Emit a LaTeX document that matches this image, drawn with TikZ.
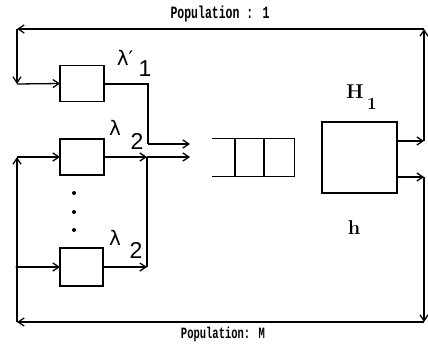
\documentclass[tikz,border=0pt]{standalone}
\usepackage{fontspec}
\newfontfamily\popfont{Liberation Mono}
\newfontfamily\lamfont{DejaVu Sans}
\newfontfamily\digfont{Liberation Sans}
\usetikzlibrary{arrows.meta}
\begin{document}
\begin{tikzpicture}[x=1pt,y=-1pt,line width=1.3pt,
  tip/.style={-{Straight Barb[length=6pt,width=8pt,line width=1.3pt]}},
  box/.style={draw,minimum width=44pt,minimum height=36pt,inner sep=0pt,outer sep=0pt},
  hbox/.style={draw,minimum width=75pt,minimum height=71pt,inner sep=0pt,outer sep=0pt},
  poptext/.style={inner sep=0pt,font=\popfont\bfseries},
  lam/.style={inner sep=0pt,font=\lamfont\fontsize{20}{20}\selectfont},
  dig/.style={inner sep=0pt,font=\digfont\fontsize{23}{23}\selectfont},
  serif/.style={inner sep=0pt,font=\bfseries\fontsize{20}{20}\selectfont}]
\useasboundingbox (0,0) rectangle (428,350);
% boxes
\node[box] (box1) at (82,83.5) {};
\node[box] (box2) at (82,157) {};
\node[box,minimum width=43pt,minimum height=38pt] (box3) at (81.5,267) {};
\node[hbox] (H) at (359.5,157.5) {};
% queue
\node[minimum width=81pt,minimum height=37pt,inner sep=0pt] (queue) at (253.5,157.5) {};
\draw (queue.north west) -- (queue.north east) -- (queue.south east) -- (queue.south west);
\draw (235,139) -- (235,176);
\draw (264,139) -- (264,176);
% coordinates
\coordinate (o1) at (424,141);
\coordinate (tr) at (424,29);
\coordinate (tl) at (17,29);
\coordinate (ml) at (17,84);
\coordinate (o2) at (424,177);
\coordinate (br) at (424,322);
\coordinate (bl) at (17,322);
\coordinate (l2) at (17,157);
\coordinate (l3) at (17,267);
\coordinate (j1) at (148,84);
\coordinate (j1b) at (148,144);
\coordinate (q1) at (190,144);
\coordinate (j2) at (147,157);
\coordinate (q2) at (190,157);
\coordinate (j3) at (147,267);
% upper loop
\draw[tip] (H.east |- o1) -- (o1);
\draw[tip] (o1) -- (tr);
\draw[tip] (tr) -- (tl);
\draw[tip] (tl) -- (ml);
\draw[tip] (ml) -- (box1.west);
% lower loop
\draw[tip] (H.east |- o2) -- (o2);
\draw[tip] (o2) -- (br);
\draw[tip] (br) -- (bl);
\draw[tip] (bl) -- (l2);
\draw[tip] (l2) -- (box2.west);
\draw[tip] (l3) -- (box3.west);
\fill (l3) circle (1.6pt);
% outputs to queue
\draw (box1.east |- j1) -- (j1) -- (j1b);
\draw[tip] (j1b) -- (q1);
\draw[tip] (box2.east) -- (j2);
\draw[tip] (j2) -- (q2);
\draw[tip] (box3.east) -- (j3);
\draw (j3) -- (j2);
% dots
\fill (74,193) circle (2pt);
\fill (74,212) circle (2pt);
\fill (74,230) circle (2pt);
% texts
\node[poptext] (pop1) at (220,14) {\scalebox{1}[1.5]{\fontsize{11.5}{12}\selectfont Population : 1}};
\node[poptext] (popM) at (223,334) {\scalebox{1}[1.5]{\fontsize{10.5}{12}\selectfont Population: M}};
\node[lam] (l1a) at (125,58) {λ′};
\node[dig] (l1b) at (145,69) {1};
\node[lam] (l2a) at (115,128) {λ};
\node[dig] (l2b) at (137,141) {2};
\node[lam] (l3a) at (115,238) {λ};
\node[dig] (l3b) at (136,250) {2};
\node[serif] (Ha) at (355,92) {H};
\node[serif,font=\bfseries\fontsize{17}{17}\selectfont] (Hb) at (372,104) {1};
\node[serif] (h) at (354,228) {h};
\end{tikzpicture}
\end{document}
